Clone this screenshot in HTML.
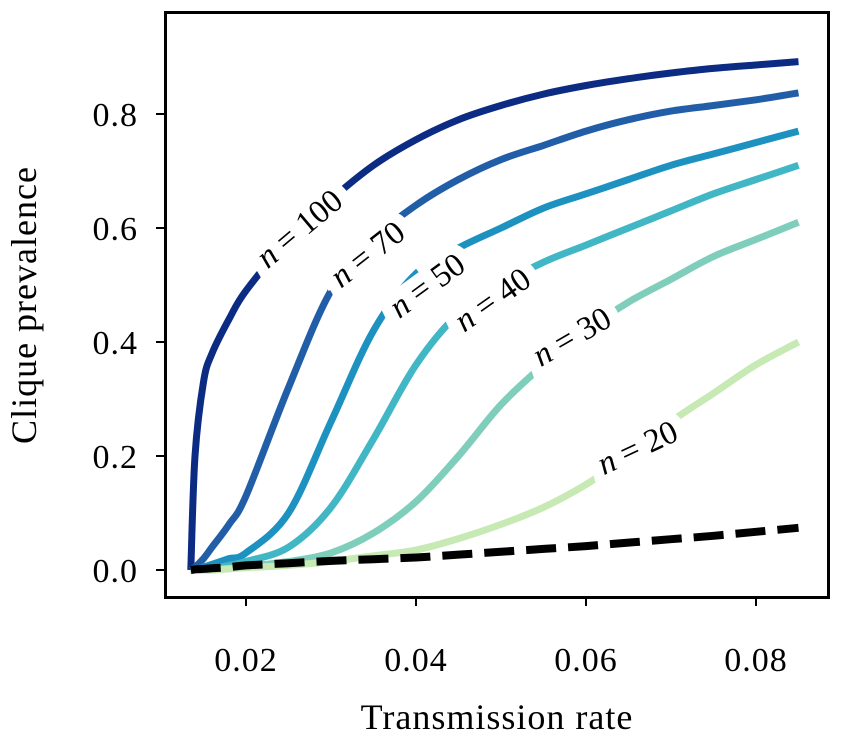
<!DOCTYPE html>
<html><head><meta charset="utf-8">
<style>
html,body{margin:0;padding:0;background:#fff;}
svg{display:block;font-family:"Liberation Serif",serif;}
</style></head>
<body>
<svg id="chart" width="847" height="743">
  <rect x="165.5" y="12.5" width="663" height="585" fill="none" stroke="#000" stroke-width="3"/>
  <g id="ticks"></g>
  <g id="series"></g>
  <g id="labels"></g>
  <text x="497" y="729" text-anchor="middle" font-size="36" letter-spacing="1">Transmission rate</text>
  <text transform="translate(36,305) rotate(-90)" text-anchor="middle" font-size="36" letter-spacing="1">Clique prevalence</text>
</svg>
<script>
const xs = [0.0135,0.014,0.015,0.016,0.018,0.02,0.025,0.03,0.035,0.04,0.045,0.05,0.055,0.06,0.065,0.07,0.075,0.08,0.085];
const seriesN = [100,70,50,40,30,20];
const seriesColors = ["#0c2c84","#225ea8","#1d91c0","#41b6c4","#7fcdbb","#c7e9b4"];
const n100 = [0,0.2,0.33,0.38,0.44,0.49,0.58,0.65,0.71,0.755,0.79,0.815,0.835,0.85,0.862,0.872,0.88,0.886,0.892];
const n70 = [0,0.005,0.02,0.04,0.08,0.13,0.32,0.49,0.58,0.64,0.685,0.72,0.745,0.77,0.79,0.805,0.815,0.825,0.837];
const n50 = [0,0,0.005,0.01,0.02,0.03,0.1,0.26,0.42,0.52,0.565,0.6,0.635,0.66,0.685,0.71,0.73,0.75,0.77];
const n40 = [0,0,0,0.003,0.008,0.015,0.04,0.11,0.23,0.36,0.45,0.5,0.54,0.57,0.6,0.63,0.66,0.685,0.71];
const n30 = [0,0,0,0,0.003,0.006,0.015,0.03,0.065,0.12,0.2,0.29,0.36,0.42,0.47,0.51,0.55,0.58,0.61];
const n20 = [0,0,0,0,0.002,0.004,0.008,0.015,0.025,0.035,0.055,0.08,0.11,0.15,0.2,0.26,0.31,0.36,0.40];
const baseline = [0,0.001,0.002,0.003,0.005,0.008,0.012,0.016,0.019,0.022,0.027,0.032,0.037,0.042,0.048,0.054,0.06,0.067,0.074];
const xTicks = [0.02,0.04,0.06,0.08];
const xTickLabels = ["0.02","0.04","0.06","0.08"];
const yTicks = [0,0.2,0.4,0.6,0.8];
const yTickLabels = ["0.0","0.2","0.4","0.6","0.8"];
const labelX = [0.0265,0.0345,0.0415,0.0492,0.0585,0.0662];
const labelY = [0.595,0.55,0.495,0.47,0.405,0.21];
const labelAngle = [-40,-38,-36,-35,-30,-25];

const ns = "http://www.w3.org/2000/svg";
const X = v => 246 + (v-0.02)/0.02*170;
const Y = v => 570 - v/0.2*114;
const seriesData = [n100,n70,n50,n40,n30,n20];

const tg = document.getElementById('ticks');
xTicks.forEach((t,i)=>{
  const l=document.createElementNS(ns,'line');
  l.setAttribute('x1',X(t));l.setAttribute('x2',X(t));l.setAttribute('y1',597);l.setAttribute('y2',606);
  l.setAttribute('stroke','#000');l.setAttribute('stroke-width','2');
  
  
  tg.appendChild(l);
  const tx=document.createElementNS(ns,'text');
  tx.setAttribute('x',X(t));tx.setAttribute('y',671);tx.setAttribute('text-anchor','middle');tx.setAttribute('font-size','34');tx.setAttribute('letter-spacing','1');
  tx.textContent=xTickLabels[i];
  
  
  tg.appendChild(tx);
});
yTicks.forEach((t,i)=>{
  const l=document.createElementNS(ns,'line');
  l.setAttribute('x1',156);l.setAttribute('x2',165);l.setAttribute('y1',Y(t));l.setAttribute('y2',Y(t));
  l.setAttribute('stroke','#000');l.setAttribute('stroke-width','2');
  
  
  tg.appendChild(l);
  const tx=document.createElementNS(ns,'text');
  tx.setAttribute('x',138);tx.setAttribute('y',Y(t)+12);tx.setAttribute('text-anchor','end');tx.setAttribute('font-size','34');tx.setAttribute('letter-spacing','1');
  tx.textContent=yTickLabels[i];
  
  
  tg.appendChild(tx);
});

function smoothPath(arr){
  const p=arr.map((v,i)=>[X(xs[i]),Y(v)]);
  let d='M'+p[0][0].toFixed(1)+','+p[0][1].toFixed(1);
  for(let i=0;i<p.length-1;i++){
    const p0=p[Math.max(0,i-1)],p1=p[i],p2=p[i+1],p3=p[Math.min(p.length-1,i+2)];
    const c1x=p1[0]+(p2[0]-p0[0])/6,c1y=p1[1]+(p2[1]-p0[1])/6;
    const c2x=p2[0]-(p3[0]-p1[0])/6,c2y=p2[1]-(p3[1]-p1[1])/6;
    d+=` C${c1x.toFixed(1)},${c1y.toFixed(1)} ${c2x.toFixed(1)},${c2y.toFixed(1)} ${p2[0].toFixed(1)},${p2[1].toFixed(1)}`;
  }
  return d;
}
const sg=document.getElementById('series');
seriesData.forEach((arr,k)=>{
  const p=document.createElementNS(ns,'path');
  p.setAttribute('d',smoothPath(arr));p.setAttribute('fill','none');
  p.setAttribute('stroke',seriesColors[k]);p.setAttribute('stroke-width','7');p.setAttribute('stroke-linejoin','round');
  
  
  sg.appendChild(p);
});
const b=document.createElementNS(ns,'path');
b.setAttribute('d',smoothPath(baseline));b.setAttribute('fill','none');
b.setAttribute('stroke','#000');b.setAttribute('stroke-width','8');b.setAttribute('stroke-dasharray','30,12');


sg.appendChild(b);

const lg=document.getElementById('labels');
seriesN.forEach((n,k)=>{
  const t=document.createElementNS(ns,'text');
  t.setAttribute('transform',`translate(${X(labelX[k])},${Y(labelY[k])}) rotate(${labelAngle[k]})`);
  t.setAttribute('text-anchor','middle');t.setAttribute('dominant-baseline','middle');t.setAttribute('font-size','33');
  t.setAttribute('stroke','#fff');t.setAttribute('stroke-width','22');t.setAttribute('paint-order','stroke');
  t.setAttribute('fill','#000');
  t.innerHTML='<tspan font-style="italic">n</tspan> = '+n;
  
  
  lg.appendChild(t);
});
</script>
</body></html>
